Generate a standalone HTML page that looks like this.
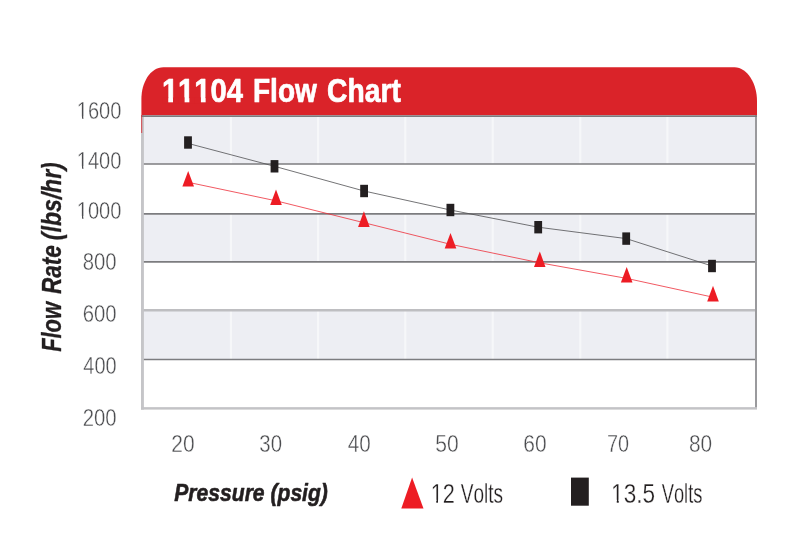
<!DOCTYPE html>
<html lang="en"><head><meta charset="utf-8"><title>11104 Flow Chart</title>
<style>html,body{margin:0;padding:0;background:#fff;}body{width:800px;height:554px;overflow:hidden;}svg{display:block;}text{font-family:"Liberation Sans",Arial,Helvetica,sans-serif;font-kerning:none;}.ax{fill:#4b4c4f;font-size:24.3px;stroke:#fff;stroke-width:0.38px;}.lg{fill:#231f20;font-size:27.2px;stroke:#fff;stroke-width:0.3px;}.bi{fill:#231f20;font-weight:bold;font-style:italic;stroke:#231f20;stroke-width:0.6px;stroke-linejoin:round;}</style></head><body>
<svg width="800" height="554" viewBox="0 0 800 554">
<rect x="0" y="0" width="800" height="554" fill="#ffffff"/>
<rect x="142.5" y="116.5" width="613.5" height="47.5" fill="#edeef3"/>
<rect x="142.5" y="213.85" width="613.5" height="48.0" fill="#edeef3"/>
<rect x="142.5" y="310.2" width="613.5" height="49.2" fill="#edeef3"/>
<line x1="230.9" y1="116" x2="230.9" y2="408" stroke="#ffffff" stroke-width="2.2" stroke-opacity="0.5"/>
<line x1="318.1" y1="116" x2="318.1" y2="408" stroke="#ffffff" stroke-width="2.2" stroke-opacity="0.5"/>
<line x1="405.3" y1="116" x2="405.3" y2="408" stroke="#ffffff" stroke-width="2.2" stroke-opacity="0.5"/>
<line x1="492.7" y1="116" x2="492.7" y2="408" stroke="#ffffff" stroke-width="2.2" stroke-opacity="0.5"/>
<line x1="580.3" y1="116" x2="580.3" y2="408" stroke="#ffffff" stroke-width="2.2" stroke-opacity="0.5"/>
<line x1="667.4" y1="116" x2="667.4" y2="408" stroke="#ffffff" stroke-width="2.2" stroke-opacity="0.5"/>
<line x1="142.5" y1="164.0" x2="756.0" y2="164.0" stroke="#7c7c7f" stroke-width="1.55"/>
<line x1="142.5" y1="213.85" x2="756.0" y2="213.85" stroke="#7c7c7f" stroke-width="1.55"/>
<line x1="142.5" y1="261.85" x2="756.0" y2="261.85" stroke="#7c7c7f" stroke-width="1.55"/>
<line x1="142.5" y1="310.2" x2="756.0" y2="310.2" stroke="#bebec1" stroke-width="2.6"/>
<line x1="142.5" y1="359.4" x2="756.0" y2="359.4" stroke="#7c7c7f" stroke-width="1.5"/>
<rect x="141" y="115" width="2.9" height="294.6" fill="#c5c5c8"/>
<rect x="755" y="115" width="2" height="293.5" fill="#9a9a9d"/>
<rect x="141" y="407.15" width="616" height="2.45" fill="#c3c3c6"/>
<path d="M141.4 115.3 L141.4 99 C141.4 83 150 67.3 163.5 67.3 L734.5 67.3 C747.5 67.3 757 84 757 101 L757 115.3 Z" fill="#da2329"/>
<rect x="141.4" y="115.3" width="615.6" height="1.7" fill="#7b7b7e"/>
<line x1="141.7" y1="115" x2="141.7" y2="133" stroke="#da2329" stroke-width="0.8"/>
<text y="102.3" font-size="33.6" font-weight="bold" fill="#ffffff" stroke="#ffffff" stroke-width="0.7" stroke-linejoin="round"><tspan x="161.9" textLength="81.02" lengthAdjust="spacingAndGlyphs">11104</tspan> <tspan x="252.98" textLength="63.9" lengthAdjust="spacingAndGlyphs">Flow</tspan> <tspan x="327.12" textLength="73.76" lengthAdjust="spacingAndGlyphs">Chart</tspan></text>
<polyline fill="none" stroke="#505053" stroke-width="0.8" points="188,143.4 274.5,166.3 364.1,191 450.4,210 538.2,227.2 626.2,238.6 712,266"/>
<polyline fill="none" stroke="#ee2f3a" stroke-width="0.8" points="188.2,182.3 276,200.8 363.9,222.7 450.5,244.3 539.75,262.8 626.7,278.4 713,297.2"/>
<rect x="184.1" y="136.3" width="7.8" height="12.4" fill="#231f20"/>
<rect x="270.6" y="160.1" width="7.8" height="12.4" fill="#231f20"/>
<rect x="360.2" y="184.8" width="7.8" height="12.4" fill="#231f20"/>
<rect x="446.5" y="203.8" width="7.8" height="12.4" fill="#231f20"/>
<rect x="534.3" y="221.0" width="7.8" height="12.4" fill="#231f20"/>
<rect x="622.3" y="232.4" width="7.8" height="12.4" fill="#231f20"/>
<rect x="708.1" y="259.8" width="7.8" height="12.4" fill="#231f20"/>
<path d="M188.2 170.9 L194.0 186.5 L182.4 186.5 Z" fill="#ed1c24"/>
<path d="M276.0 189.4 L281.8 205.0 L270.2 205.0 Z" fill="#ed1c24"/>
<path d="M363.9 211.3 L369.7 226.9 L358.1 226.9 Z" fill="#ed1c24"/>
<path d="M450.5 232.9 L456.3 248.5 L444.7 248.5 Z" fill="#ed1c24"/>
<path d="M539.8 251.4 L545.5 267.0 L534.0 267.0 Z" fill="#ed1c24"/>
<path d="M626.7 267.0 L632.5 282.6 L620.9 282.6 Z" fill="#ed1c24"/>
<path d="M713.0 285.8 L718.8 301.4 L707.2 301.4 Z" fill="#ed1c24"/>
<text class="ax" x="76.75" y="119.2" textLength="44.67" lengthAdjust="spacingAndGlyphs">1600</text>
<text class="ax" x="76.75" y="169.0" textLength="44.67" lengthAdjust="spacingAndGlyphs">1400</text>
<text class="ax" x="76.75" y="218.8" textLength="44.67" lengthAdjust="spacingAndGlyphs">1000</text>
<text class="ax" x="82.78" y="270.4" textLength="33.88" lengthAdjust="spacingAndGlyphs">800</text>
<text class="ax" x="82.65" y="322.2" textLength="33.89" lengthAdjust="spacingAndGlyphs">600</text>
<text class="ax" x="83.28" y="374.0" textLength="33.33" lengthAdjust="spacingAndGlyphs">400</text>
<text class="ax" x="82.65" y="425.7" textLength="33.89" lengthAdjust="spacingAndGlyphs">200</text>
<text class="ax" x="171.3" y="451.7" textLength="23.35" lengthAdjust="spacingAndGlyphs">20</text>
<text class="ax" x="259.35" y="451.7" textLength="22.69" lengthAdjust="spacingAndGlyphs">30</text>
<text class="ax" x="347.72" y="451.7" textLength="23.0" lengthAdjust="spacingAndGlyphs">40</text>
<text class="ax" x="435.22" y="451.7" textLength="23.44" lengthAdjust="spacingAndGlyphs">50</text>
<text class="ax" x="523.3" y="451.7" textLength="23.35" lengthAdjust="spacingAndGlyphs">60</text>
<text class="ax" x="606.9" y="451.7" textLength="22.1" lengthAdjust="spacingAndGlyphs">70</text>
<text class="ax" x="688.92" y="451.7" textLength="23.2" lengthAdjust="spacingAndGlyphs">80</text>
<text class="bi" x="174.28" y="501.2" font-size="24.8" textLength="153.63" lengthAdjust="spacingAndGlyphs">Pressure (psig)</text>
<text class="bi" style="stroke-width:0.35px" transform="translate(60.9 351.6) rotate(-90)" y="0" font-size="28"><tspan x="-0.25" textLength="49.9" lengthAdjust="spacingAndGlyphs">Flow</tspan> <tspan x="57.55" textLength="48.76" lengthAdjust="spacingAndGlyphs">Rate</tspan> <tspan x="111.45" textLength="77.89" lengthAdjust="spacingAndGlyphs">(lbs/hr)</tspan></text>
<path d="M412.1 477.6 L423.5 508.6 L401.3 508.6 Z" fill="#ed1c24"/>
<text class="lg" y="502.7"><tspan x="430.65" textLength="24.12" lengthAdjust="spacingAndGlyphs">12</tspan> <tspan x="460.75" textLength="42.4" lengthAdjust="spacingAndGlyphs">Volts</tspan></text>
<rect x="571" y="477.6" width="17.8" height="28.1" fill="#231f20"/>
<text class="lg" y="502.7"><tspan x="611.12" textLength="43.95" lengthAdjust="spacingAndGlyphs">13.5</tspan> <tspan x="661.75" textLength="40.65" lengthAdjust="spacingAndGlyphs">Volts</tspan></text>
<rect x="162.3" y="97.5" width="5.95" height="6.05" fill="#da2329"/>
<rect x="173.0" y="97.5" width="5.7" height="6.05" fill="#da2329"/>
<rect x="178.65" y="97.5" width="5.95" height="6.05" fill="#da2329"/>
<rect x="189.35" y="97.5" width="5.7" height="6.05" fill="#da2329"/>
<rect x="194.7" y="97.5" width="6.2" height="6.05" fill="#da2329"/>
<rect x="205.65" y="97.5" width="5.7" height="6.05" fill="#da2329"/>
<rect x="77.3" y="116.5" width="4.7" height="3.3" fill="#ffffff"/>
<rect x="83.5" y="116.5" width="4.45" height="3.3" fill="#ffffff"/>
<rect x="77.3" y="166.25" width="4.7" height="3.3" fill="#ffffff"/>
<rect x="83.5" y="166.25" width="4.45" height="3.3" fill="#ffffff"/>
<rect x="77.3" y="216.0" width="4.7" height="3.3" fill="#ffffff"/>
<rect x="83.5" y="216.0" width="4.45" height="3.3" fill="#ffffff"/>
<rect x="431.05" y="499.75" width="5.2" height="3.8" fill="#ffffff"/>
<rect x="438.0" y="499.75" width="4.7" height="3.8" fill="#ffffff"/>
<rect x="611.8" y="499.75" width="4.95" height="3.8" fill="#ffffff"/>
<rect x="618.75" y="499.75" width="4.95" height="3.8" fill="#ffffff"/>
</svg>
</body></html>
